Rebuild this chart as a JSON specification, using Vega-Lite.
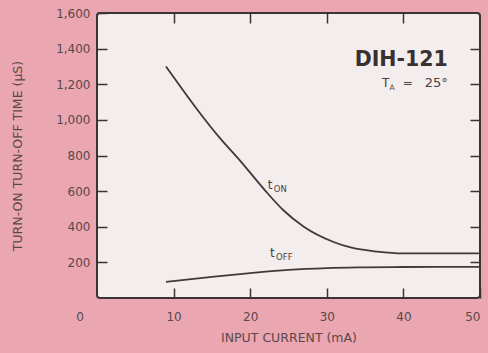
{
  "$schema": "https://vega.github.io/schema/vega-lite/v6.json",
  "width": 383,
  "height": 285,
  "autosize": {"type": "none"},
  "padding": {"left": 97, "top": 13, "right": 8, "bottom": 55},
  "background": "#eaa6b1",
  "config": {
    "view": {"fill": "#f4eded", "stroke": "#3d3333", "strokeWidth": 2, "cornerRadius": 3},
    "font": "DejaVu Sans",
    "axis": {
      "grid": false,
      "domain": false,
      "tickSize": -10,
      "tickWidth": 1.5,
      "tickColor": "#3d3333",
      "labelColor": "#5a4848",
      "labelFont": "DejaVu Sans",
      "labelFontSize": 12,
      "titleColor": "#5a4848",
      "titleFont": "DejaVu Sans",
      "titleFontWeight": "normal"
    }
  },
  "datasets": {
    "curves": [
      {"series": "tON", "current": 9, "time": 1300},
      {"series": "tON", "current": 11, "time": 1180},
      {"series": "tON", "current": 13.4, "time": 1040},
      {"series": "tON", "current": 16, "time": 900},
      {"series": "tON", "current": 18.7, "time": 770},
      {"series": "tON", "current": 21.9, "time": 606},
      {"series": "tON", "current": 24.3, "time": 494},
      {"series": "tON", "current": 27, "time": 400},
      {"series": "tON", "current": 30.8, "time": 316},
      {"series": "tON", "current": 33, "time": 285},
      {"series": "tON", "current": 36.6, "time": 260},
      {"series": "tON", "current": 40, "time": 250},
      {"series": "tON", "current": 50, "time": 250},
      {"series": "tOFF", "current": 9, "time": 90},
      {"series": "tOFF", "current": 12, "time": 105},
      {"series": "tOFF", "current": 15, "time": 119},
      {"series": "tOFF", "current": 20, "time": 140},
      {"series": "tOFF", "current": 25, "time": 158},
      {"series": "tOFF", "current": 30, "time": 168},
      {"series": "tOFF", "current": 35, "time": 172},
      {"series": "tOFF", "current": 40, "time": 174},
      {"series": "tOFF", "current": 50, "time": 175}
    ],
    "curveLabels": [
      {"main": "t", "sub": "ON", "current": 22.3, "time": 634},
      {"main": "t", "sub": "OFF", "current": 22.6, "time": 253}
    ],
    "origin": [{"label": "0", "current": 0, "time": 0}],
    "title": [{"label": "DIH-121", "current": 45.8, "time": 1336}],
    "tempMain": [
      {"label": "T", "current": 37.2, "time": 1207},
      {"label": "=", "current": 39.9, "time": 1207}
    ],
    "tempSub": [{"label": "A", "current": 38.2, "time": 1207}],
    "tempRest": [{"label": "25°", "current": 45.8, "time": 1207}]
  },
  "layer": [
    {
      "data": {"name": "curves"},
      "mark": {"type": "line", "interpolate": "monotone", "color": "#433838", "strokeWidth": 1.8},
      "encoding": {
        "x": {
          "field": "current", "type": "quantitative",
          "scale": {"domain": [0, 50], "nice": false},
          "axis": {"orient": "bottom", "values": [10, 20, 30, 40, 50], "labelPadding": 23, "title": "INPUT CURRENT (mA)", "titleFontSize": 12.5, "titlePadding": 9}
        },
        "y": {
          "field": "time", "type": "quantitative",
          "scale": {"domain": [0, 1600], "nice": false},
          "axis": {"orient": "left", "values": [200, 400, 600, 800, 1000, 1200, 1400, 1600], "format": ",d", "labelPadding": 17, "title": "TURN-ON TURN-OFF TIME (µS)", "titleFontSize": 12.5, "titlePadding": 31}
        },
        "detail": {"field": "series"}
      }
    },
    {
      "data": {"name": "curves"},
      "mark": {"type": "line", "opacity": 0},
      "encoding": {
        "x": {"field": "current", "type": "quantitative", "scale": {"domain": [0, 50], "nice": false},
          "axis": {"orient": "top", "values": [10, 20, 30, 40], "labels": false, "title": null}},
        "y": {"field": "time", "type": "quantitative", "scale": {"domain": [0, 1600], "nice": false},
          "axis": {"orient": "right", "values": [200, 400, 600, 800, 1000, 1200, 1400], "labels": false, "title": null}},
        "detail": {"field": "series"}
      }
    },
    {
      "data": {"name": "curveLabels"},
      "mark": {"type": "text", "align": "left", "baseline": "middle", "fontSize": 12, "color": "#4d4040"},
      "encoding": {
        "x": {"field": "current", "type": "quantitative", "axis": null},
        "y": {"field": "time", "type": "quantitative", "axis": null},
        "text": {"field": "main"}
      }
    },
    {
      "data": {"name": "curveLabels"},
      "mark": {"type": "text", "align": "left", "baseline": "middle", "fontSize": 8.5, "dx": 6, "dy": 4, "color": "#4d4040"},
      "encoding": {
        "x": {"field": "current", "type": "quantitative", "axis": null},
        "y": {"field": "time", "type": "quantitative", "axis": null},
        "text": {"field": "sub"}
      }
    },
    {
      "data": {"name": "origin"},
      "mark": {"type": "text", "align": "center", "baseline": "middle", "fontSize": 12, "dx": -17, "dy": 19, "color": "#5a4848"},
      "encoding": {
        "x": {"field": "current", "type": "quantitative", "axis": null},
        "y": {"field": "time", "type": "quantitative", "axis": null},
        "text": {"field": "label"}
      }
    },
    {
      "data": {"name": "title"},
      "mark": {"type": "text", "align": "right", "baseline": "middle", "fontSize": 20.5, "fontWeight": "bold", "color": "#3a3030"},
      "encoding": {
        "x": {"field": "current", "type": "quantitative", "axis": null},
        "y": {"field": "time", "type": "quantitative", "axis": null},
        "text": {"field": "label"}
      }
    },
    {
      "data": {"name": "tempMain"},
      "mark": {"type": "text", "align": "left", "baseline": "middle", "fontSize": 12, "color": "#4d4040"},
      "encoding": {
        "x": {"field": "current", "type": "quantitative", "axis": null},
        "y": {"field": "time", "type": "quantitative", "axis": null},
        "text": {"field": "label"}
      }
    },
    {
      "data": {"name": "tempSub"},
      "mark": {"type": "text", "align": "left", "baseline": "middle", "fontSize": 7.5, "dy": 5, "color": "#4d4040"},
      "encoding": {
        "x": {"field": "current", "type": "quantitative", "axis": null},
        "y": {"field": "time", "type": "quantitative", "axis": null},
        "text": {"field": "label"}
      }
    },
    {
      "data": {"name": "tempRest"},
      "mark": {"type": "text", "align": "right", "baseline": "middle", "fontSize": 13, "color": "#4d4040"},
      "encoding": {
        "x": {"field": "current", "type": "quantitative", "axis": null},
        "y": {"field": "time", "type": "quantitative", "axis": null},
        "text": {"field": "label"}
      }
    }
  ],
  "resolve": {"axis": {"x": "independent", "y": "independent"}}
}
